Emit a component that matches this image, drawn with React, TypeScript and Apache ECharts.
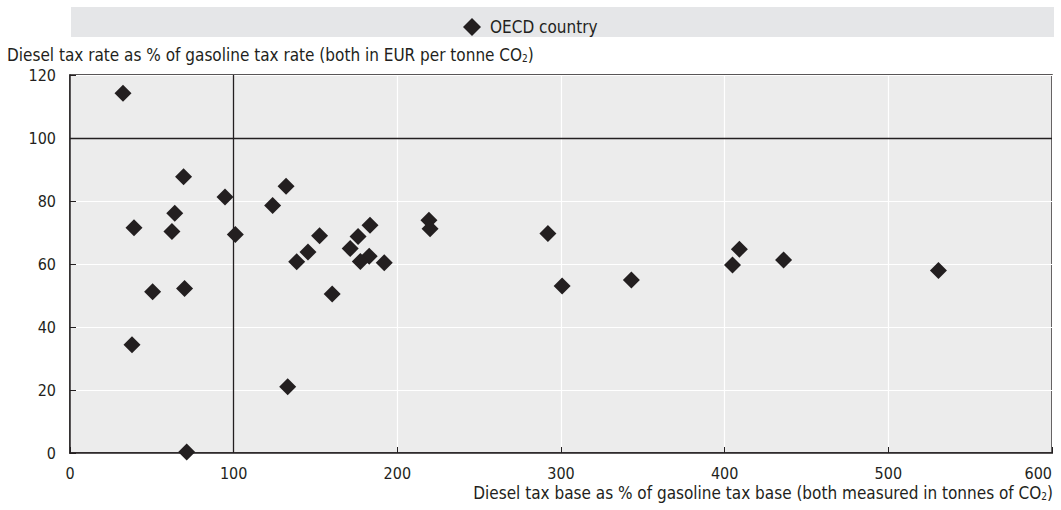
import React, { useEffect, useRef } from "react";
import * as echarts from "echarts";

const seriesName = "OECD country";
const baseShare: number[] = [
  32.4, 69.4, 39.1, 64, 62.3, 94.7, 101, 123.8, 132, 138.5, 152.5, 176, 183.3, 219.3, 220,
  145.4, 171.2, 182.8, 177.4, 192, 50.5, 70, 160.2, 37.9, 133, 71.3, 292, 300.7, 343, 409,
  404.8, 436, 530.6,
];
const rateShare: number[] = [
  114.2, 87.7, 71.5, 76.1, 70.3, 81.3, 69.4, 78.6, 84.7, 60.7, 69, 68.7, 72.3, 73.9, 71.2,
  63.8, 64.9, 62.5, 60.8, 60.4, 51.2, 52.2, 50.5, 34.4, 21, 0.3, 69.7, 53, 54.9, 64.7, 59.7,
  61.3, 57.9,
];
const xTicks = [0, 100, 200, 300, 400, 500, 600];
const yTicks = [0, 20, 40, 60, 80, 100, 120];
const referenceX = 100;
const referenceY = 100;
const yTitle = "Diesel tax rate as % of gasoline tax rate (both in EUR per tonne CO{sub|2})";
const xTitle = "Diesel tax base as % of gasoline tax base (both measured in tonnes of CO{sub|2})";

const FONT = "'Liberation Sans Narrow', 'DejaVu Sans Condensed', 'Liberation Sans', sans-serif";
const INK = "#231f20";

export default function App() {
  const ref = useRef<HTMLDivElement>(null);
  useEffect(() => {
    document.body.style.margin = "0";
    const chart = echarts.init(ref.current!, null, { renderer: "svg" });
    const data = baseShare.map((x, i) => [x, rateShare[i]]);
    const subRich = {
      sub: { fontSize: 10, verticalAlign: "bottom", padding: [8, 0, 0, 0], fontFamily: FONT, fill: INK },
    };
    chart.setOption({
      animation: false,
      textStyle: { fontFamily: FONT, color: INK },
      graphic: [
        {
          type: "rect",
          z: -10,
          shape: { x: 71, y: 7, width: 983, height: 30 },
          style: { fill: "#e5e6e8" },
        },
        {
          type: "text",
          left: 7,
          top: 46,
          style: { text: yTitle, fontFamily: FONT, fontSize: 17, fill: INK, rich: subRich },
        },
        {
          type: "text",
          right: 8,
          top: 484,
          style: { text: xTitle, fontFamily: FONT, fontSize: 17, fill: INK, rich: subRich },
        },
      ],
      legend: {
        left: 458,
        top: 13,
        itemWidth: 18,
        itemHeight: 18,
        textStyle: { fontFamily: FONT, fontSize: 17, color: INK, padding: [0, 0, 0, 4] },
        data: [{ name: seriesName, icon: "diamond" }],
      },
      grid: {
        left: 70,
        right: 9,
        top: 75,
        bottom: 57,
        show: true,
        backgroundColor: "#ececec",
        borderColor: INK,
        borderWidth: 1.5,
      },
      xAxis: {
        type: "value",
        min: xTicks[0],
        max: xTicks[xTicks.length - 1],
        interval: 100,
        axisLine: { show: true, onZero: false, lineStyle: { color: INK, width: 1.5 } },
        axisTick: { show: true, inside: true, length: 6, lineStyle: { color: INK } },
        splitLine: { show: true, lineStyle: { color: "#ffffff", width: 1.2 } },
        axisLabel: {
          margin: 12,
          fontSize: 16,
          color: INK,
          fontFamily: FONT,
          alignMaxLabel: "right",
        },
      },
      yAxis: {
        type: "value",
        min: yTicks[0],
        max: yTicks[yTicks.length - 1],
        interval: 20,
        axisLine: { show: true, lineStyle: { color: INK, width: 1.5 } },
        axisTick: { show: true, inside: true, length: 6, lineStyle: { color: INK } },
        splitLine: { show: true, lineStyle: { color: "#ffffff", width: 1.2 } },
        axisLabel: { margin: 14, fontSize: 16, color: INK, fontFamily: FONT },
      },
      series: [
        {
          name: seriesName,
          type: "scatter",
          symbol: "diamond",
          symbolSize: 17,
          itemStyle: { color: INK, opacity: 1 },
          data,
          z: 5,
          markLine: {
            silent: true,
            symbol: "none",
            label: { show: false },
            lineStyle: { color: INK, width: 1.3, type: "solid" },
            data: [{ xAxis: referenceX }, { yAxis: referenceY }],
            z: 1,
          },
        },
      ],
    });
    return () => chart.dispose();
  }, []);
  return <div ref={ref} style={{ position: "absolute", left: 0, top: 0, width: 1061, height: 510 }} />;
}
